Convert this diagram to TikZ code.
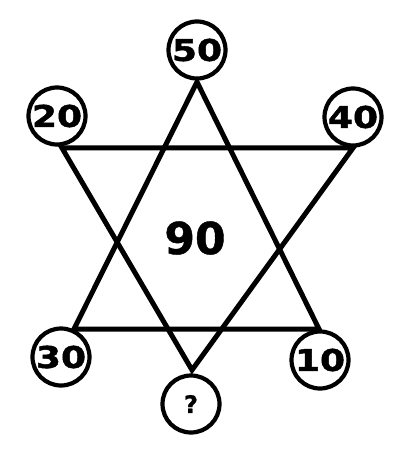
\documentclass[tikz,border=0pt]{standalone}
\usepackage{fontspec}
\newfontfamily\numfont[FakeStretch=1.2,FakeBold=1.5]{DejaVu Sans Bold}
\newfontfamily\bigfont[FakeBold=1]{DejaVu Sans Bold}
\begin{document}
\begin{tikzpicture}[x=1pt,y=-1pt,
  ball/.style={circle,draw,line width=4.2pt,minimum size=57pt,inner sep=0pt,
    font=\numfont\fontsize{30}{30}\selectfont},
  edge/.style={line width=5pt,line join=miter}]
\useasboundingbox (0,0) rectangle (405,457);
\fill[white] (0,0) rectangle (405,457);
\node[ball] (n50) at (197,50) {50};
\node[ball] (n20) at (57,116) {20};
\node[ball] (n40) at (353,117) {40};
\node[ball] (n30) at (61,357) {30};
\node[ball] (n10) at (320,360) {10};
\node[ball,font=\bigfont\fontsize{24}{24}\selectfont] (nq) at (191,404) {?};
\node[font=\bigfont\fontsize{44}{44}\selectfont] (n90) at (195,238) {90};
\coordinate (uA) at (197,82);
\coordinate (uB) at (74,329);
\coordinate (uC) at (319,329);
\coordinate (dA) at (62,148);
\coordinate (dB) at (353,148);
\coordinate (dC) at (192,370);
\draw[edge] (uA) -- (uB) -- (uC) -- cycle;
\draw[edge] (dA) -- (dB) -- (dC) -- cycle;
\end{tikzpicture}
\end{document}
